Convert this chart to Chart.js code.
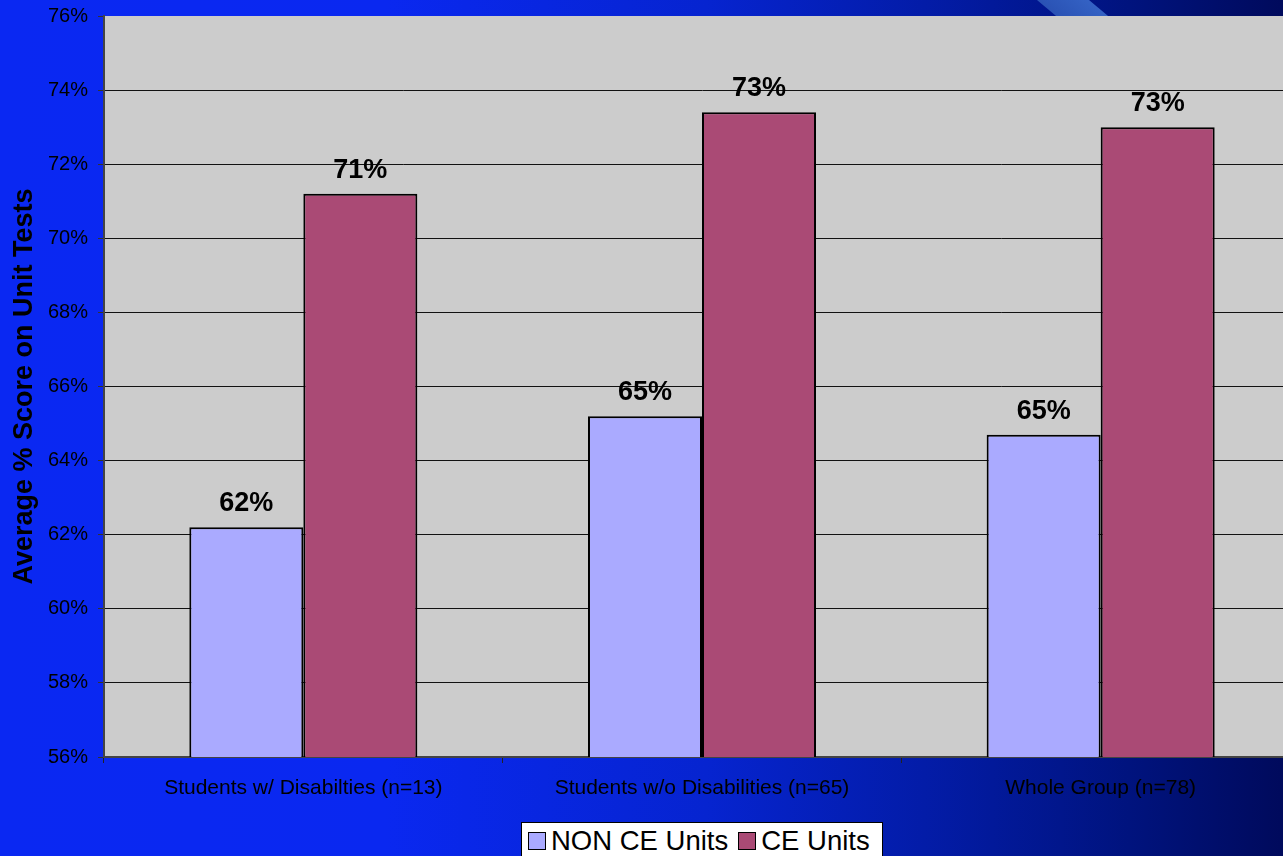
<!DOCTYPE html>
<html>
<head>
<meta charset="utf-8">
<script src="https://cdn.jsdelivr.net/npm/chart.js@4"></script>
<style>
  html, body { margin: 0; padding: 0; width: 1283px; height: 856px; overflow: hidden; }
  body {
    background: linear-gradient(to right, #0a28f2 0%, #0a28f0 30%, #0624d0 55%, #031ca8 72%, #00137e 88%, #000a5c 100%);
    font-family: "Liberation Sans", Arial, sans-serif;
    position: relative;
  }
  #stripe {
    position: absolute; left: 1037px; top: 0; width: 52px; height: 16px;
    background: linear-gradient(to right, #2a52b4, #3462c4);
    transform: skewX(50deg); transform-origin: top left;
  }
  #wrap { position: absolute; left: 0; top: 0; width: 1300px; height: 856px; }
  #legend {
    position: absolute; left: 521px; top: 822px; width: 362px; height: 40px;
    background: #fff; border: 1px solid #000; box-sizing: border-box;
    display: flex; align-items: flex-start; padding: 4px 0 0 6px;
    font-size: 27.5px; color: #000; white-space: nowrap;
  }
  #legend .item { display: flex; align-items: center; margin-right: 10px; line-height: 27px; }
  #legend .sw { width: 16px; height: 16px; border: 1px solid #000; margin-right: 5px; }
</style>
</head>
<body>
<div id="stripe"></div>
<div id="wrap"><canvas id="chart" width="1300" height="856"></canvas></div>
<div id="legend"></div>
<script>
// chart values
const categories = ["Students w/ Disabilties (n=13)", "Students w/o Disabilities (n=65)", "Whole Group (n=78)"];
const seriesNames = ["NON CE Units", "CE Units"];
const nonCeScores = [62.2, 65.2, 64.7];
const ceScores = [71.2, 73.4, 73.0];
const yMin = 56, yMax = 76, yStep = 2;

// grey plot area behind the bars
const plotBg = {
    id: "plotBg",
    beforeDraw(chart) {
        const a = chart.chartArea;
        const ctx = chart.ctx;
        ctx.save();
        ctx.fillStyle = "#cccccc";
        ctx.fillRect(a.left, a.top, a.right - a.left, a.bottom - a.top);
        ctx.restore();
    }
};

// bold % labels above every bar
const valueLabels = {
    id: "valueLabels",
    afterDatasetsDraw(chart) {
        const ctx = chart.ctx;
        ctx.save();
        ctx.font = "bold 27px 'Liberation Sans', Arial, sans-serif";
        ctx.fillStyle = "#000";
        ctx.textAlign = "center";
        ctx.textBaseline = "alphabetic";
        chart.data.datasets.forEach((ds, i) => {
            chart.getDatasetMeta(i).data.forEach((bar, j) => {
                ctx.fillText(Math.round(ds.data[j]) + "%", bar.x, bar.y - 16);
            });
        });
        ctx.restore();
    }
};

const ctx = document.getElementById("chart").getContext("2d");
const chart = new Chart(ctx, {
    type: "bar",
    data: {
        labels: categories,
        datasets: [{
            label: seriesNames[0],
            data: nonCeScores,
            backgroundColor: "#aaaaff",
            borderColor: "#000",
            borderWidth: 2
        }, {
            label: seriesNames[1],
            data: ceScores,
            backgroundColor: "#aa4a75",
            borderColor: "#000",
            borderWidth: 2
        }]
    },
    options: {
        responsive: false,
        animation: false,
        layout: { padding: { top: 16, right: 0, left: 0, bottom: 0 } },
        datasets: { bar: { categoryPercentage: 0.572, barPercentage: 1 } },
        plugins: { legend: { display: false }, tooltip: { enabled: false } },
        scales: {
            x: {
                afterFit: s => { s.height = 99; s.paddingLeft = 0; s.paddingRight = 0; },
                grid: { drawOnChartArea: false, drawTicks: true, tickLength: 6, color: "#222", offset: true },
                border: { display: true, color: "#444", width: 2 },
                ticks: { color: "#000", padding: 13, font: { size: 21, family: "'Liberation Sans', Arial" }, maxRotation: 0 }
            },
            y: {
                min: yMin, max: yMax,
                afterFit: s => { s.width = 104; s.paddingTop = 0; s.paddingBottom = 0; },
                grid: {
                    color: c => c.tick.value === yMax ? "rgba(0,0,0,0)" : "#111",
                    tickColor: "#333",
                    tickLength: 6,
                    lineWidth: 1
                },
                border: { display: true, color: "#444", width: 2 },
                ticks: {
                    stepSize: yStep, color: "#000", padding: 10,
                    font: { size: 20, family: "'Liberation Sans', Arial" },
                    callback: v => v + "%"
                },
                title: {
                    display: true,
                    text: "Average % Score on Unit Tests",
                    color: "#000",
                    padding: { top: 8, bottom: 0 },
                    font: { size: 27, weight: "bold", family: "'Liberation Sans', Arial" }
                }
            }
        }
    },
    plugins: [plotBg, valueLabels]
});

// html legend built from the datasets
const legend = document.getElementById("legend");
chart.data.datasets.forEach(ds => {
    const item = document.createElement("div");
    item.className = "item";
    const sw = document.createElement("div");
    sw.className = "sw";
    sw.style.background = ds.backgroundColor;
    const txt = document.createElement("span");
    txt.textContent = ds.label;
    item.appendChild(sw);
    item.appendChild(txt);
    legend.appendChild(item);
});
</script>
</body>
</html>
